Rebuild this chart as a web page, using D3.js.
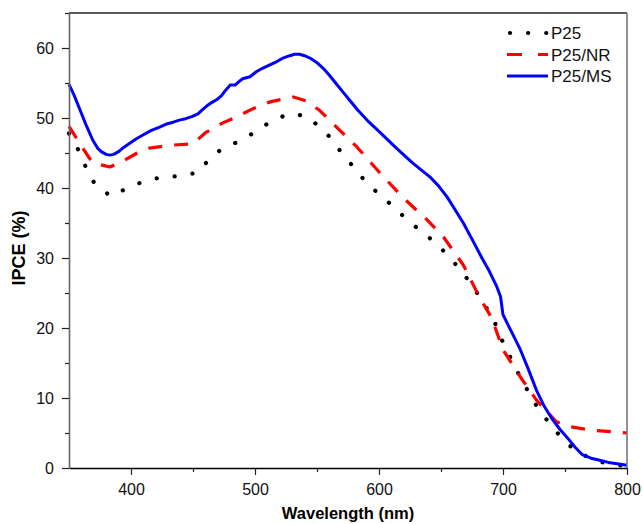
<!DOCTYPE html>
<html>
<head>
<meta charset="utf-8">
<script src="https://cdn.jsdelivr.net/npm/d3@7"></script>
<style>
  html, body { margin: 0; padding: 0; background: #fff; }
  svg { display: block; font-family: "Liberation Sans", Arial, sans-serif; }
</style>
</head>
<body>
<svg id="chart" width="643" height="524"></svg>
<script>
// IPCE spectra for three photoanodes.
const p25Wl  = [350, 358, 364, 371, 384, 397, 411, 426, 441, 455, 464, 476, 488, 500, 512, 527, 541, 551, 562, 571, 581, 590, 601, 613, 623, 635, 646, 657, 667, 676, 684, 692, 698, 710, 724, 733, 742, 752, 764, 778, 792, 800];
const p25Val = [47.8, 45.3, 42.8, 40.5, 38.8, 40, 41, 41.6, 41.7, 42.3, 44.4, 45.9, 46.7, 48, 49.4, 50.6, 50.3, 48.9, 47, 44.7, 42.7, 40.7, 39, 37.1, 35.4, 33.7, 32.1, 30.1, 28, 25.9, 23.6, 21.4, 18.7, 14.3, 9.7, 7.4, 5.4, 3.4, 1.9, 0.9, 0.4, 0.3];

const nrWl  = [350, 360, 369, 383, 395, 405, 415, 431, 450, 460, 474, 482, 498, 512, 531, 542, 552, 568, 582, 601, 619, 639, 652, 668, 681, 691, 700, 714, 727, 743, 754, 772, 800];
const nrVal = [48.8, 46.0, 43.6, 43.0, 44.0, 45, 45.7, 46.1, 46.3, 47.9, 49.3, 49.9, 51.3, 52.3, 53, 52.4, 51.1, 48.3, 45.9, 42.1, 38.7, 35.4, 33, 29, 24.4, 21.4, 16.9, 13, 9.7, 6.6, 5.9, 5.4, 5.0];

const msWl  = [350, 354, 359, 364, 369, 373, 376, 380, 383, 386, 390, 394, 399, 404, 410, 416, 423, 428, 434, 439, 444, 449, 454, 457, 461, 465, 469, 473, 476, 480, 484, 487, 490, 496, 501, 506, 512, 518, 523, 528, 532, 536, 540, 545, 550, 555, 560, 565, 571, 577, 583, 592, 601, 614, 627, 634, 641, 648, 655, 661, 668, 675, 683, 689, 695, 698, 700, 707, 714, 720, 727, 733, 740, 746, 752, 758, 764, 771, 778, 785, 792, 800];
const msVal = [54.8, 53.3, 51.1, 48.9, 46.9, 45.7, 45.2, 44.8, 44.7, 44.8, 45.2, 45.8, 46.4, 47.0, 47.6, 48.2, 48.7, 49.1, 49.4, 49.7, 49.9, 50.2, 50.6, 51.1, 51.7, 52.2, 52.6, 53.2, 53.9, 54.7, 54.7, 55.2, 55.6, 55.9, 56.6, 57.1, 57.6, 58.1, 58.6, 58.9, 59.1, 59.1, 58.9, 58.5, 57.9, 57.1, 56.1, 55.0, 53.7, 52.4, 51.1, 49.4, 47.9, 45.7, 43.6, 42.6, 41.6, 40.3, 38.7, 37.0, 35, 32.7, 30, 28.1, 25.9, 24.5, 21.9, 19.4, 16.9, 14.3, 11.1, 8.9, 6.9, 5.5, 4.3, 3.0, 1.9, 1.4, 1.1, 0.8, 0.6, 0.4];

const xTicks = [400, 500, 600, 700, 800];
const xMinor = [450, 550, 650, 750];
const yTicks = [0, 10, 20, 30, 40, 50, 60];
const yMinor = [5, 15, 25, 35, 45, 55, 65];

const seriesNames = ['P25', 'P25/NR', 'P25/MS'];

const styles = {
  'P25':    { color: '#000', width: 4.2, dash: '0.1 18', cap: 'round' },
  'P25/NR': { color: '#f00', width: 3.2, dash: '14 12', cap: 'butt' },
  'P25/MS': { color: '#00f', width: 3,   dash: null,    cap: 'butt' },
};

const series = [
  { name: 'P25',    pts: p25Wl.map((w, i) => [w, p25Val[i]]) },
  { name: 'P25/NR', pts: nrWl.map((w, i) => [w, nrVal[i]]) },
  { name: 'P25/MS', pts: msWl.map((w, i) => [w, msVal[i]]) },
];

const L = 69, R = 627, T = 13, B = 468;
const x = d3.scaleLinear().domain([350, 800]).range([L, R]);
const y = d3.scaleLinear().domain([0, 65]).range([B, T]);

const svg = d3.select('#chart');

// Curves (plain polylines; points are dense enough)
const line = d3.line().x(d => x(d[0])).y(d => y(d[1]));
svg.append('g').selectAll('path')
  .data(series)
  .enter().append('path')
  .attr('d', d => line(d.pts))
  .attr('fill', 'none')
  .attr('stroke', d => styles[d.name].color)
  .attr('stroke-width', d => styles[d.name].width)
  .attr('stroke-dasharray', d => styles[d.name].dash)
  .attr('stroke-linecap', d => styles[d.name].cap)
  .attr('stroke-linejoin', 'round');

// Frame: top and right edges
svg.append('line').attr('x1', L).attr('x2', R).attr('y1', T).attr('y2', T)
  .attr('stroke', '#222').attr('stroke-width', 1.4);
svg.append('line').attr('x1', R).attr('x2', R).attr('y1', T).attr('y2', B)
  .attr('stroke', '#777').attr('stroke-width', 1.6);

// Axes
const xAxis = svg.append('g').attr('transform', `translate(0,${B})`)
  .call(d3.axisBottom(x).tickValues(xTicks).tickSize(7).tickSizeOuter(0));
svg.append('g').attr('transform', `translate(0,${B})`)
  .call(d3.axisBottom(x).tickValues(xMinor).tickSize(4).tickFormat(''))
  .call(g => g.select('.domain').remove());

const yAxis = svg.append('g').attr('transform', `translate(${L},0)`)
  .call(d3.axisLeft(y).tickValues(yTicks).tickSize(7).tickSizeOuter(0));
svg.append('g').attr('transform', `translate(${L},0)`)
  .call(d3.axisLeft(y).tickValues(yMinor).tickSize(4).tickFormat(''))
  .call(g => g.select('.domain').remove());

svg.selectAll('.tick line').attr('stroke', '#222').attr('stroke-width', 1.2);
xAxis.select('.domain').attr('stroke', '#000').attr('stroke-width', 1.5);
yAxis.select('.domain').attr('stroke', '#666').attr('stroke-width', 1.6);

xAxis.selectAll('.tick text')
  .attr('font-family', '"Liberation Sans", Arial, sans-serif')
  .attr('font-size', 16).attr('fill', '#111').attr('dy', '1.05em');
yAxis.selectAll('.tick text')
  .attr('font-family', '"Liberation Sans", Arial, sans-serif')
  .attr('font-size', 16).attr('fill', '#111').attr('x', -15);

// Axis titles
svg.append('text')
  .attr('x', 348).attr('y', 519)
  .attr('text-anchor', 'middle')
  .attr('font-size', 16.5).attr('font-weight', 'bold')
  .text('Wavelength (nm)');
svg.append('text')
  .attr('transform', 'translate(25,248) rotate(-90)')
  .attr('text-anchor', 'middle')
  .attr('font-size', 18).attr('font-weight', 'bold')
  .text('IPCE (%)');

// Legend
const legend = svg.append('g');
seriesNames.forEach((name, i) => {
  const base = 39 + i * 21.5;
  const s = styles[name];
  legend.append('line')
    .attr('x1', name === 'P25' ? 510 : 507).attr('x2', 548)
    .attr('y1', base - 6).attr('y2', base - 6)
    .attr('stroke', s.color).attr('stroke-width', s.width)
    .attr('stroke-dasharray', name === 'P25/NR' ? '15 16' : s.dash)
    .attr('stroke-linecap', s.cap);
  legend.append('text')
    .attr('x', 551).attr('y', base)
    .attr('font-size', 17).attr('fill', '#111')
    .text(name);
});
</script>
</body>
</html>
